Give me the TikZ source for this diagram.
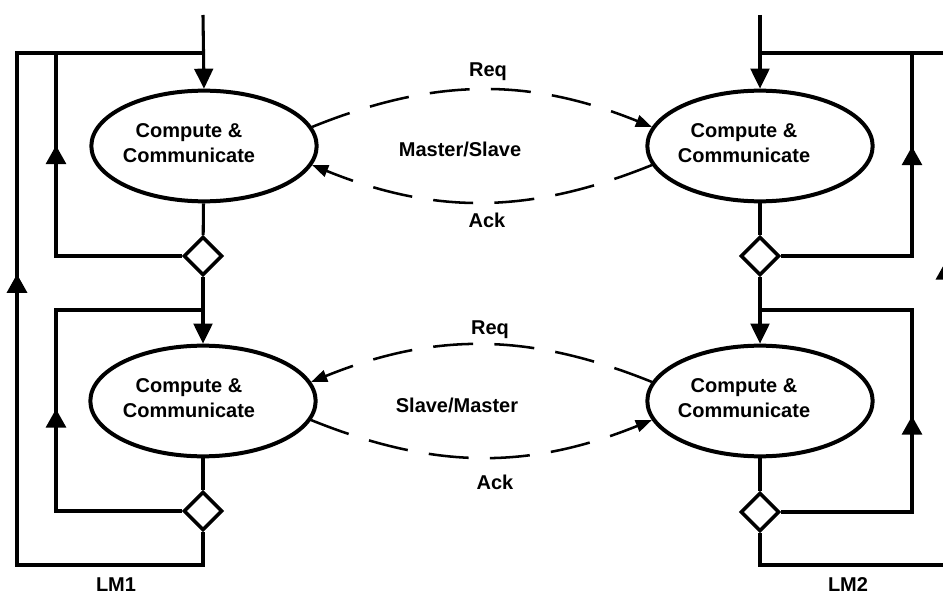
\documentclass[tikz,border=0pt]{standalone}
\usepackage{fontspec}
\setmainfont{Liberation Sans}
\usetikzlibrary{arrows.meta,positioning,calc,shapes.geometric,decorations.markings}

\begin{document}
\begin{tikzpicture}[
  x=0.75pt,y=0.75pt,
  cc/.style={draw,ellipse,line width=3pt,minimum width=169pt,minimum height=83pt,inner sep=0pt},
  cctext/.style={font=\fontsize{15}{18.5}\selectfont\bfseries,align=center},
  dec/.style={draw,diamond,line width=2.6pt,minimum width=29pt,minimum height=29pt,inner sep=0pt,fill=white},
  lbl/.style={font=\fontsize{15}{18}\selectfont\bfseries},
  line/.style={line width=2.3pt},
  arr/.style={line,-{Triangle[length=15pt,width=14pt]}},
  uparr/.style={line,postaction={decorate},decoration={markings,mark=at position #1 with {\arrow{Triangle[length=14pt,width=15pt]}}}},
  dasharr/.style={line width=1.9pt,dash pattern=on 30pt off 16pt,-{Triangle[length=12pt,width=9pt]}}
]
\useasboundingbox (0,0) rectangle (943,-599);
\clip (0,0) rectangle (943,-599);

% LM1 column
\node[cc] (L1) at (204,-146) {};
\node[cc] (L2) at (203,-401) {};
\node[dec] (D1) at (203,-256) {};
\node[dec] (D2) at (203,-511) {};
\node[cctext] (L1t) at ($(L1)+(-15,3)$) {Compute \&\\Communicate};
\node[cctext] (L2t) at ($(L2)+(-14,3)$) {Compute \&\\Communicate};

% LM2 column
\node[cc] (R1) at (760,-146) {};
\node[cc] (R2) at (760,-401) {};
\node[dec] (E1) at (760,-256) {};
\node[dec] (E2) at (760,-512) {};
\node[cctext] (R1t) at ($(R1)+(-16,3)$) {Compute \&\\Communicate};
\node[cctext] (R2t) at ($(R2)+(-16,3)$) {Compute \&\\Communicate};

\coordinate (inL) at (203,-15);
\coordinate (J1) at (203,-53);
\coordinate (J2) at (203,-310);
\coordinate (iT1) at (56,-53);
\coordinate (iT2) at (56,-310);
\coordinate (oBL) at (17,-565);

\coordinate (inR) at (760,-15);
\coordinate (K1) at (760,-53);
\coordinate (K2) at (760,-310);
\coordinate (kT1) at (912,-53);
\coordinate (kT2) at (912,-310);
\coordinate (oBR) at (946,-565);

% left loops
\draw[arr] (inL) -- (L1.north);
\draw[line] (L1) -- (D1);
\draw[arr] (D1) -- (L2);
\draw[line] (L2) -- (D2);
\draw[uparr=0.719] (D1.west) -| (iT1);
\draw[uparr=0.481] (D2.west) -| (iT2) -- (J2);
\draw[uparr=0.556] (D2.south) |- (oBL) |- (J1);

% right loops
\draw[arr] (inR) -- (R1.north);
\draw[line] (R1) -- (E1);
\draw[arr] (E1) -- (R2);
\draw[line] (R2) -- (E2);
\draw[uparr=0.72] (E1.east) -| (kT1);
\draw[uparr=0.468] (E2.east) -| (kT2) -- (K2);
\draw[uparr=0.57] (E2.south) |- (oBR) |- (K1);

% handshakes
\draw[dasharr] (L1.10) to[bend left=22] (R1.170);
\draw[dasharr] (R1.190) to[bend left=22] (L1.-10);
\draw[dasharr] (R2.170) to[bend right=22] (L2.10);
\draw[dasharr] (L2.-10) to[bend right=22] (R2.190);

\node[lbl] (req1) at (488,-72) {Req};
\node[lbl] (ms) at (460,-149) {Master/Slave};
\node[lbl] (ack1) at (487,-220) {Ack};
\node[lbl] (req2) at (490,-330) {Req};
\node[lbl] (sm) at (457,-405) {Slave/Master};
\node[lbl] (ack2) at (495,-482) {Ack};
\node[lbl] (lm1) at (116,-585) {LM1};
\node[lbl] (lm2) at (848,-585) {LM2};
\end{tikzpicture}
\end{document}
